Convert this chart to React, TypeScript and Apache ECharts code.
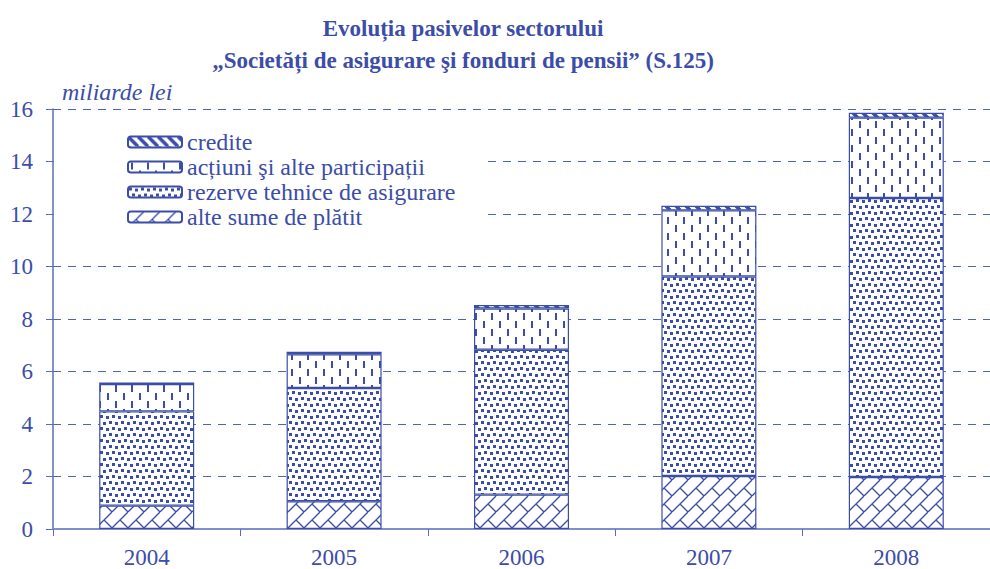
import React, { useEffect, useRef } from 'react';
import * as echarts from 'echarts';

const years = ['2004', '2005', '2006', '2007', '2008'];
// stacked segments, miliarde lei
const alteSume = [0.89, 1.06, 1.31, 2.02, 1.98];
const rezerveTehnice = [3.59, 4.31, 5.52, 7.6, 10.63];
const actiuni = [1.04, 1.29, 1.57, 2.52, 3.06];
const credite = [0.06, 0.09, 0.13, 0.17, 0.19];

const nameCredite = 'credite';
const nameActiuni = 'acțiuni şi alte participații';
const nameRezerve = 'rezerve tehnice de asigurare';
const nameAlte = 'alte sume de plătit';

const BLUE = '#3B4DA8';
const FONT = 'Liberation Serif';

function makeCanvas(w: number, h: number, draw: (ctx: CanvasRenderingContext2D) => void) {
  const c = document.createElement('canvas');
  c.width = w;
  c.height = h;
  const ctx = c.getContext('2d') as CanvasRenderingContext2D;
  ctx.fillStyle = '#ffffff';
  ctx.fillRect(0, 0, w, h);
  ctx.fillStyle = BLUE;
  ctx.strokeStyle = BLUE;
  draw(ctx);
  return c;
}

function patterns() {
  const cred = makeCanvas(10, 10, (ctx) => {
    ctx.lineWidth = 3.5;
    for (const o of [-10, 0, 10]) {
      ctx.beginPath();
      ctx.moveTo(o, 0);
      ctx.lineTo(o + 10, 10);
      ctx.stroke();
    }
  });
  const act = makeCanvas(16, 16, (ctx) => {
    ctx.fillRect(3, 1, 2, 7);
    ctx.fillRect(11, 9, 2, 7);
  });
  const rez = makeCanvas(12, 12, (ctx) => {
    ctx.fillRect(1, 1, 3, 3);
    ctx.fillRect(7, 2, 3, 3);
    ctx.fillRect(4, 7, 3, 3);
    ctx.fillRect(10, 8, 3, 3);
    ctx.fillRect(-2, 8, 3, 3);
  });
  const alte = makeCanvas(16, 16, (ctx) => {
    ctx.lineWidth = 1.3;
    for (const o of [-16, 0, 16]) {
      ctx.beginPath();
      ctx.moveTo(o, 16);
      ctx.lineTo(o + 16, 0);
      ctx.stroke();
    }
    ctx.beginPath();
    ctx.moveTo(8, 8);
    ctx.lineTo(16, 16);
    ctx.stroke();
    ctx.beginPath();
    ctx.moveTo(-8, -8);
    ctx.lineTo(0, 0);
    ctx.stroke();
  });
  const p = (img: HTMLCanvasElement) => ({ image: img, repeat: 'repeat' } as any);
  return { cred: p(cred), act: p(act), rez: p(rez), alte: p(alte) };
}

export default function App() {
  const ref = useRef<HTMLDivElement>(null);
  useEffect(() => {
    if (!ref.current) return;
    const chart = echarts.init(ref.current, undefined, { renderer: 'svg' });
    const pt = patterns();
    const mk = (name: string, data: number[], fill: any) => ({
      name,
      type: 'bar',
      stack: 'total',
      data,
      barWidth: 95,
      itemStyle: { color: fill, borderColor: BLUE, borderWidth: 1.2 },
    });
    chart.setOption({
      animation: false,
      backgroundColor: '#ffffff',
      textStyle: { fontFamily: FONT },
      title: {
        text: 'Evoluția pasivelor sectorului\n„Societăți de asigurare şi fonduri de pensii” (S.125)',
        left: 463,
        top: 12,
        padding: 0,
        textAlign: 'center',
        textVerticalAlign: 'top',
        textStyle: {
          fontFamily: FONT,
          fontWeight: 'bold',
          fontSize: 23,
          lineHeight: 32,
          color: BLUE,
        },
      },
      legend: {
        orient: 'vertical',
        left: 54,
        top: 120,
        padding: [10, 30, 10, 73],
        backgroundColor: '#ffffff',
        itemGap: 1,
        itemWidth: 54,
        itemHeight: 11,
        selectedMode: false,
        data: [nameCredite, nameActiuni, nameRezerve, nameAlte],
        textStyle: { fontFamily: FONT, fontSize: 24, color: BLUE, fontWeight: 'normal' },
      },
      grid: { left: 53, right: -8, top: 109, bottom: 36 },
      xAxis: {
        type: 'category',
        data: years,
        axisLine: { lineStyle: { color: '#7f8fcb', width: 2 } },
        axisTick: { show: true, length: 7, lineStyle: { color: '#5a6cbc' } },
        axisLabel: { fontFamily: FONT, fontSize: 23, color: BLUE, margin: 17 },
      },
      yAxis: {
        type: 'value',
        min: 0,
        max: 16,
        interval: 2,
        name: 'miliarde lei',
        nameLocation: 'end',
        nameGap: 5,
        nameTextStyle: {
          fontFamily: FONT,
          fontStyle: 'italic',
          fontSize: 24,
          color: BLUE,
          align: 'left',
          verticalAlign: 'bottom',
          padding: [0, 0, 0, 9],
        },
        axisLine: { show: true, lineStyle: { color: '#5a6cbc', width: 1.5 } },
        axisTick: { show: true, length: 7, lineStyle: { color: '#5a6cbc' } },
        axisLabel: { fontFamily: FONT, fontSize: 23, color: BLUE, margin: 20 },
        splitLine: { show: true, lineStyle: { color: '#4F63B8', type: [8, 7], width: 1 } },
      },
      series: [
        mk(nameAlte, alteSume, pt.alte),
        mk(nameRezerve, rezerveTehnice, pt.rez),
        mk(nameActiuni, actiuni, pt.act),
        mk(nameCredite, credite, pt.cred),
      ],
    });
    return () => chart.dispose();
  }, []);
  return (
    <div
      ref={ref}
      style={{ position: 'fixed', left: 0, top: 0, width: 990, height: 569, background: '#fff' }}
    />
  );
}
